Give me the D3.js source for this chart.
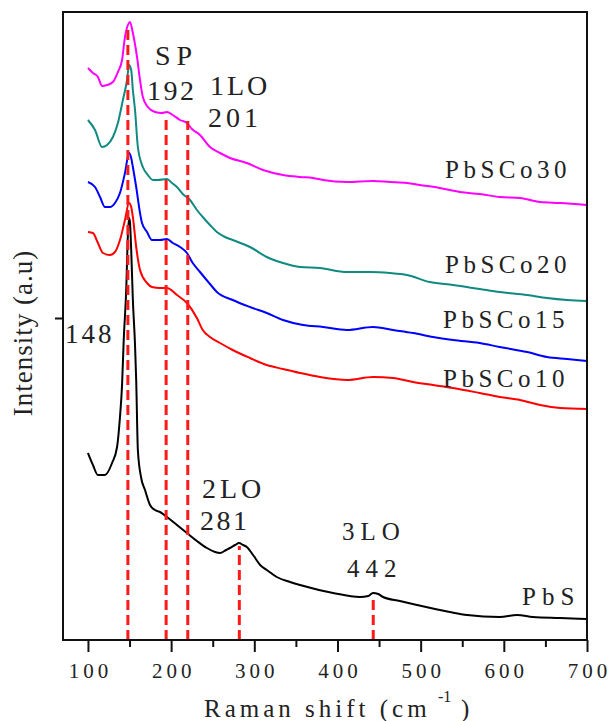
<!DOCTYPE html>
<html>
<head>
<meta charset="utf-8">
<script src="https://cdn.jsdelivr.net/npm/d3@7"></script>
<style>
  body { margin: 0; background: #fff; }
  svg text { font-family: "Liberation Serif", "Times New Roman", serif; fill: #222; }
</style>
</head>
<body>
<div class="chart"></div>
<script>
// Raman spectra, [shift (cm-1), intensity (a.u.)]
const pbsco30 = [
  [100,5720],[106,5670],[112,5630],[117,5540],[123,5550],[130,5580],[136,5680],[141,5800],
  [144.5,6030],[148,6150],[150.5,6180],[154,6070],[159,5830],[162.6,5600],[166,5430],[172,5330],
  [180.6,5280],[189,5270],[195,5280],[202,5250],[210.7,5200],[219,5170],[225,5110],[234.7,5050],
  [246.7,4930],[258.8,4870],[270.8,4820],[291,4770],[310.5,4700],[334.5,4650],[355,4630],[370.6,4620],
  [382.6,4600],[411.4,4580],[442.7,4590],[463,4580],[483.6,4570],[499,4550],[523,4520],[547,4480],
  [571,4460],[595,4430],[619.5,4420],[643.5,4380],[667.6,4370],[700,4350]
];
const pbsco20 = [
  [100,5200],[108.5,5100],[117,4930],[123,4950],[130,5030],[136,5170],[142,5400],[147,5600],
  [149.4,5750],[152,5700],[154,5500],[156.6,5300],[160,4930],[166,4730],[172,4650],[178,4600],
  [184,4600],[195,4610],[201,4570],[207,4530],[214,4460],[222.7,4400],[231,4300],[238,4230],
  [246.7,4150],[255,4080],[264.8,4030],[274,4000],[294.8,3930],[315,3830],[334.5,3770],[355,3730],
  [379,3720],[411.4,3680],[439,3680],[463,3670],[483.6,3650],[511,3580],[539,3550],[571,3510],
  [595,3480],[628,3450],[652,3420],[676,3400],[700,3390]
];
const pbsco15 = [
  [100,4580],[108.5,4530],[114.5,4430],[120.5,4330],[126.5,4330],[132.5,4370],[138.5,4470],[144.5,4670],
  [149.4,4870],[152,4820],[154,4730],[158,4530],[162.6,4270],[165,4170],[171,4080],[177,4000],
  [186.6,4000],[195,4010],[202,3970],[210.7,3930],[219,3870],[226,3770],[234.7,3680],[246.7,3560],
  [255,3480],[274,3400],[294.8,3330],[315,3270],[334.5,3200],[358.6,3150],[382.6,3130],[411.4,3100],
  [442.7,3130],[466.8,3100],[490.8,3070],[515,3030],[539,3000],[571,2970],[595,2930],[628,2880],
  [652,2830],[676,2810],[700,2790]
];
const pbsco10 = [
  [100,4080],[106,4070],[112,3970],[118,3870],[126.5,3850],[132.5,3880],[138.5,4000],[144.5,4200],
  [149.4,4370],[152,4330],[154,4230],[158,3930],[162.6,3700],[171,3570],[177,3530],[186.6,3520],
  [195,3520],[207,3450],[219,3370],[231,3220],[238,3100],[246.7,3030],[258.8,2970],[274,2900],
  [294.8,2820],[315,2750],[334.5,2710],[355,2670],[379,2630],[411.4,2600],[442.7,2630],[466.8,2620],
  [490.8,2580],[515,2550],[539,2520],[571,2470],[595,2430],[619.5,2400],[643.5,2350],[667.6,2320],
  [700,2310]
];
const pbs = [
  [100,1870],[106,1750],[112,1650],[120.5,1650],[129,1770],[135,1930],[138.5,2230],[141,2550],
  [143,3000],[146,3500],[148,4050],[149.4,4220],[150.5,4180],[152,3900],[154,3400],[156.6,2950],
  [158,2600],[160,1900],[164,1620],[168.6,1500],[174.6,1350],[180.6,1300],[186.6,1280],[195,1230],
  [207,1150],[219,1070],[231,990],[243,920],[252.8,880],[258.8,870],[266,900],[270.8,920],
  [277,950],[281.6,970],[286.5,950],[291,930],[298.5,850],[307,750],[315,700],[327,630],
  [343,580],[355,550],[394.7,470],[427,430],[437,440],[442.7,470],[449,460],[454.8,430],
  [475,390],[495.6,350],[535,280],[555.8,250],[595,230],[616,250],[635,230],[667.6,220],[700,210]
];

const series_names = ['PbSCo30', 'PbSCo20', 'PbSCo15', 'PbSCo10', 'PbS'];
const series_data = [pbsco30, pbsco20, pbsco15, pbsco10, pbs];
const series_colors = ['#ff00ff', '#108a80', '#0000ff', '#ff0000', '#000000'];

// assigned modes: [shift where line is drawn, top intensity of the dashed line]
const mode_lines = [[148, 6150], [194, 5230], [220, 5190], [282, 940], [443, 430]];

const x_major = [100, 200, 300, 400, 500, 600, 700];
const x_minor = [150, 250, 350, 450, 550, 650];
const y_tick = [3220];

const svg_width = 610;
const svg_height = 721;
const frame = {left: 63, right: 587, top: 12, bottom: 640};

const svg = d3.select('.chart').append('svg')
  .attr('width', svg_width)
  .attr('height', svg_height);

const x_scale = d3.scaleLinear([70, 700], [frame.left, frame.right]);
const y_scale = d3.scaleLinear([0, 6280], [frame.bottom, frame.top]);

const line = d3.line()
  .curve(d3.curveMonotoneX)
  .x(d => x_scale(d[0]))
  .y(d => y_scale(d[1]));

// spectra
svg.append('g').attr('class', 'spectra')
  .selectAll('path')
  .data(series_data)
  .join('path')
  .attr('d', line)
  .attr('fill', 'none')
  .attr('stroke', (d, i) => series_colors[i])
  .attr('stroke-width', 2)
  .attr('stroke-linejoin', 'round');

// dashed markers
svg.append('g').attr('class', 'modes')
  .selectAll('line')
  .data(mode_lines)
  .join('line')
  .attr('x1', d => x_scale(d[0]))
  .attr('x2', d => x_scale(d[0]))
  .attr('y1', y_scale(0))
  .attr('y2', d => y_scale(d[1]))
  .attr('stroke', '#ff1a1a')
  .attr('stroke-width', 3)
  .attr('stroke-dasharray', '10,5');

// axes
const x_axis = svg.append('g')
  .attr('transform', `translate(0,${frame.bottom})`)
  .call(d3.axisBottom(x_scale).tickValues(x_major).tickSize(12).tickPadding(11).tickSizeOuter(0));
svg.append('g')
  .attr('transform', `translate(0,${frame.bottom})`)
  .call(d3.axisBottom(x_scale).tickValues(x_minor).tickSize(7).tickFormat('').tickSizeOuter(0));
svg.append('g')
  .attr('transform', `translate(${frame.left},0)`)
  .call(d3.axisLeft(y_scale).tickValues(y_tick).tickSize(8).tickFormat('').tickSizeOuter(0));

svg.selectAll('.domain').remove();
svg.selectAll('.tick line').attr('stroke', '#111').attr('stroke-width', 2);
x_axis.selectAll('text')
  .style('font-size', '21px')
  .style('letter-spacing', '4px')
  .attr('dx', '2px')
  .attr('fill', '#222');

// frame
svg.append('rect')
  .attr('x', frame.left)
  .attr('y', frame.top)
  .attr('width', frame.right - frame.left)
  .attr('height', frame.bottom - frame.top)
  .attr('fill', 'none')
  .attr('stroke', '#111')
  .attr('stroke-width', 2);

// axis titles
const x_title = svg.append('text')
  .attr('x', 204)
  .attr('y', 717)
  .style('font-size', '25px');
x_title.append('tspan').style('letter-spacing', '4px').text('Raman shift (cm');
x_title.append('tspan').attr('x', 438).attr('y', 702).style('font-size', '16px').text('-1');
x_title.append('tspan').attr('x', 461).attr('y', 717).text(')');

svg.append('text')
  .attr('transform', 'translate(32,333) rotate(-90)')
  .attr('text-anchor', 'middle')
  .style('font-size', '27px')
  .style('letter-spacing', '1px')
  .text('Intensity (a.u)');

// labels
const labels = [
  ['SP', 155, 65, 28, 6], ['192', 147, 100, 28, 2.5], ['1LO', 210, 95, 28, 3], ['201', 208, 127, 28, 4],
  ['2LO', 202, 498, 28, 4], ['281', 200, 530, 28, 2.5], ['3LO', 342, 540, 25, 6], ['442', 347, 577, 25, 6],
  ['148', 65, 343, 27, 3], ['PbS', 522, 605, 25, 6], ['PbSCo30', 445, 178, 25, 4.5],
  ['PbSCo20', 445, 273, 25, 4.5], ['PbSCo15', 443, 328, 25, 4.5], ['PbSCo10', 443, 387, 25, 4.5]
];
svg.append('g').attr('class', 'labels')
  .selectAll('text')
  .data(labels)
  .join('text')
  .attr('x', d => d[1])
  .attr('y', d => d[2])
  .style('font-size', d => d[3] + 'px')
  .style('letter-spacing', d => d[4] + 'px')
  .text(d => d[0]);
</script>
</body>
</html>
